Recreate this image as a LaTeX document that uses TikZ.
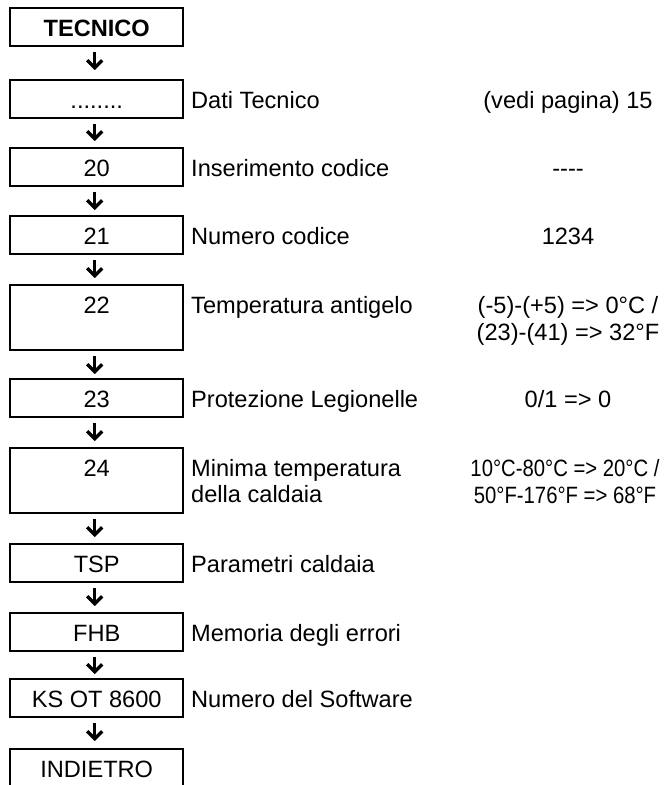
\documentclass[tikz,border=0pt]{standalone}
\usepackage{fontspec}
\setmainfont{Liberation Sans}
\usepackage{graphicx}
\usetikzlibrary{arrows.meta}
\newcommand\fs{\fontsize{23.6pt}{27pt}\selectfont}
\newcommand\lineslft[2]{\vtop{\baselineskip=26pt\halign{##\hfil\cr#1\cr#2\cr}}}
\newcommand\linesctr[2]{\vtop{\baselineskip=27pt\halign{\hfil##\hfil\cr#1\cr#2\cr}}}
\tikzset{
  box/.style={draw, line width=1.8pt, minimum width=172.8pt, minimum height=38pt,
    inner sep=0pt, text height=18pt, text depth=0pt, font=\fs},
  tallbox/.style={box, minimum height=65pt, text depth=27pt},
  lbl/.style={inner sep=0pt, anchor=base west, font=\fs},
  val/.style={inner sep=0pt, anchor=base, font=\fs},
  arr/.style={line width=3.3pt, -{Straight Barb[length=7.5pt,width=15pt]}, shorten <=5pt}
}
\begin{document}
\begin{tikzpicture}[x=1pt,y=-1pt]
\clip (0,0) rectangle (672,785);
\fill[white] (0,0) rectangle (672,785);
% boxes
\node[box, font=\fs\bfseries] (t0) at (96.7,27) {TECNICO};
\node[box] (t1) at (96.7,99) {........};
\node[box] (t2) at (96.7,167) {20};
\node[box] (t3) at (96.7,235) {21};
\node[tallbox] (t4) at (96.7,317.5) {22};
\node[box] (t5) at (96.7,398) {23};
\node[tallbox] (t6) at (96.7,480.5) {24};
\node[box] (t7) at (96.7,563) {TSP};
\node[box] (t8) at (96.7,632) {FHB};
\node[box] (t9) at (96.7,698) {KS OT 8600};
\node[box] (t10) at (96.7,768) {INDIETRO};
% middle labels
\node[lbl] (d1) at (191,0 |- t1.base) {Dati Tecnico};
\node[lbl] (d2) at (191,0 |- t2.base) {Inserimento codice};
\node[lbl] (d3) at (191,0 |- t3.base) {Numero codice};
\node[lbl] (d4) at (191,0 |- t4.base) {Temperatura antigelo};
\node[lbl] (d5) at (191,0 |- t5.base) {Protezione Legionelle};
\node[lbl] (d6) at (191,0 |- t6.base) {\lineslft{Minima temperatura}{della caldaia}};
\node[lbl] (d7) at (191,0 |- t7.base) {Parametri caldaia};
\node[lbl] (d8) at (191,0 |- t8.base) {Memoria degli errori};
\node[lbl] (d9) at (191,0 |- t9.base) {Numero del Software};
% values
\node[val] (v1) at (568,0 |- t1.base) {(vedi pagina) 15};
\node[val] (v2) at (568,0 |- t2.base) {-{}-{}-{}-};
\node[val] (v3) at (568,0 |- t3.base) {1234};
\node[val] (v4) at (568,0 |- t4.base) {\linesctr{(-5)-(+5) => 0°C /}{(23)-(41) => 32°F}};
\node[val] (v5) at (568,0 |- t5.base) {0/1 => 0};
\node[val] (v6) at (565,0 |- t6.base) {\scalebox{0.86}[1]{\linesctr{10°C-80°C => 20°C /}{50°F-176°F => 68°F}}};
% arrows
\draw[arr, shorten >=9pt] ([xshift=-2pt]t0.south) -- ([xshift=-2pt]t1.north);
\draw[arr, shorten >=6pt] ([xshift=-2pt]t1.south) -- ([xshift=-2pt]t2.north);
\draw[arr, shorten >=5pt] ([xshift=-2pt]t2.south) -- ([xshift=-2pt]t3.north);
\draw[arr, shorten >=6pt] ([xshift=-2pt]t3.south) -- ([xshift=-2pt]t4.north);
\draw[arr, shorten >=4pt] ([xshift=-2pt]t4.south) -- ([xshift=-2pt]t5.north);
\draw[arr, shorten >=6pt] ([xshift=-2pt]t5.south) -- ([xshift=-2pt]t6.north);
\draw[arr, shorten >=6pt] ([xshift=-2pt]t6.south) -- ([xshift=-2pt]t7.north);
\draw[arr, shorten >=6pt] ([xshift=-2pt]t7.south) -- ([xshift=-2pt]t8.north);
\draw[arr, shorten >=4pt] ([xshift=-2pt]t8.south) -- ([xshift=-2pt]t9.north);
\draw[arr, shorten >=7pt] ([xshift=-2pt]t9.south) -- ([xshift=-2pt]t10.north);
\end{tikzpicture}
\end{document}
